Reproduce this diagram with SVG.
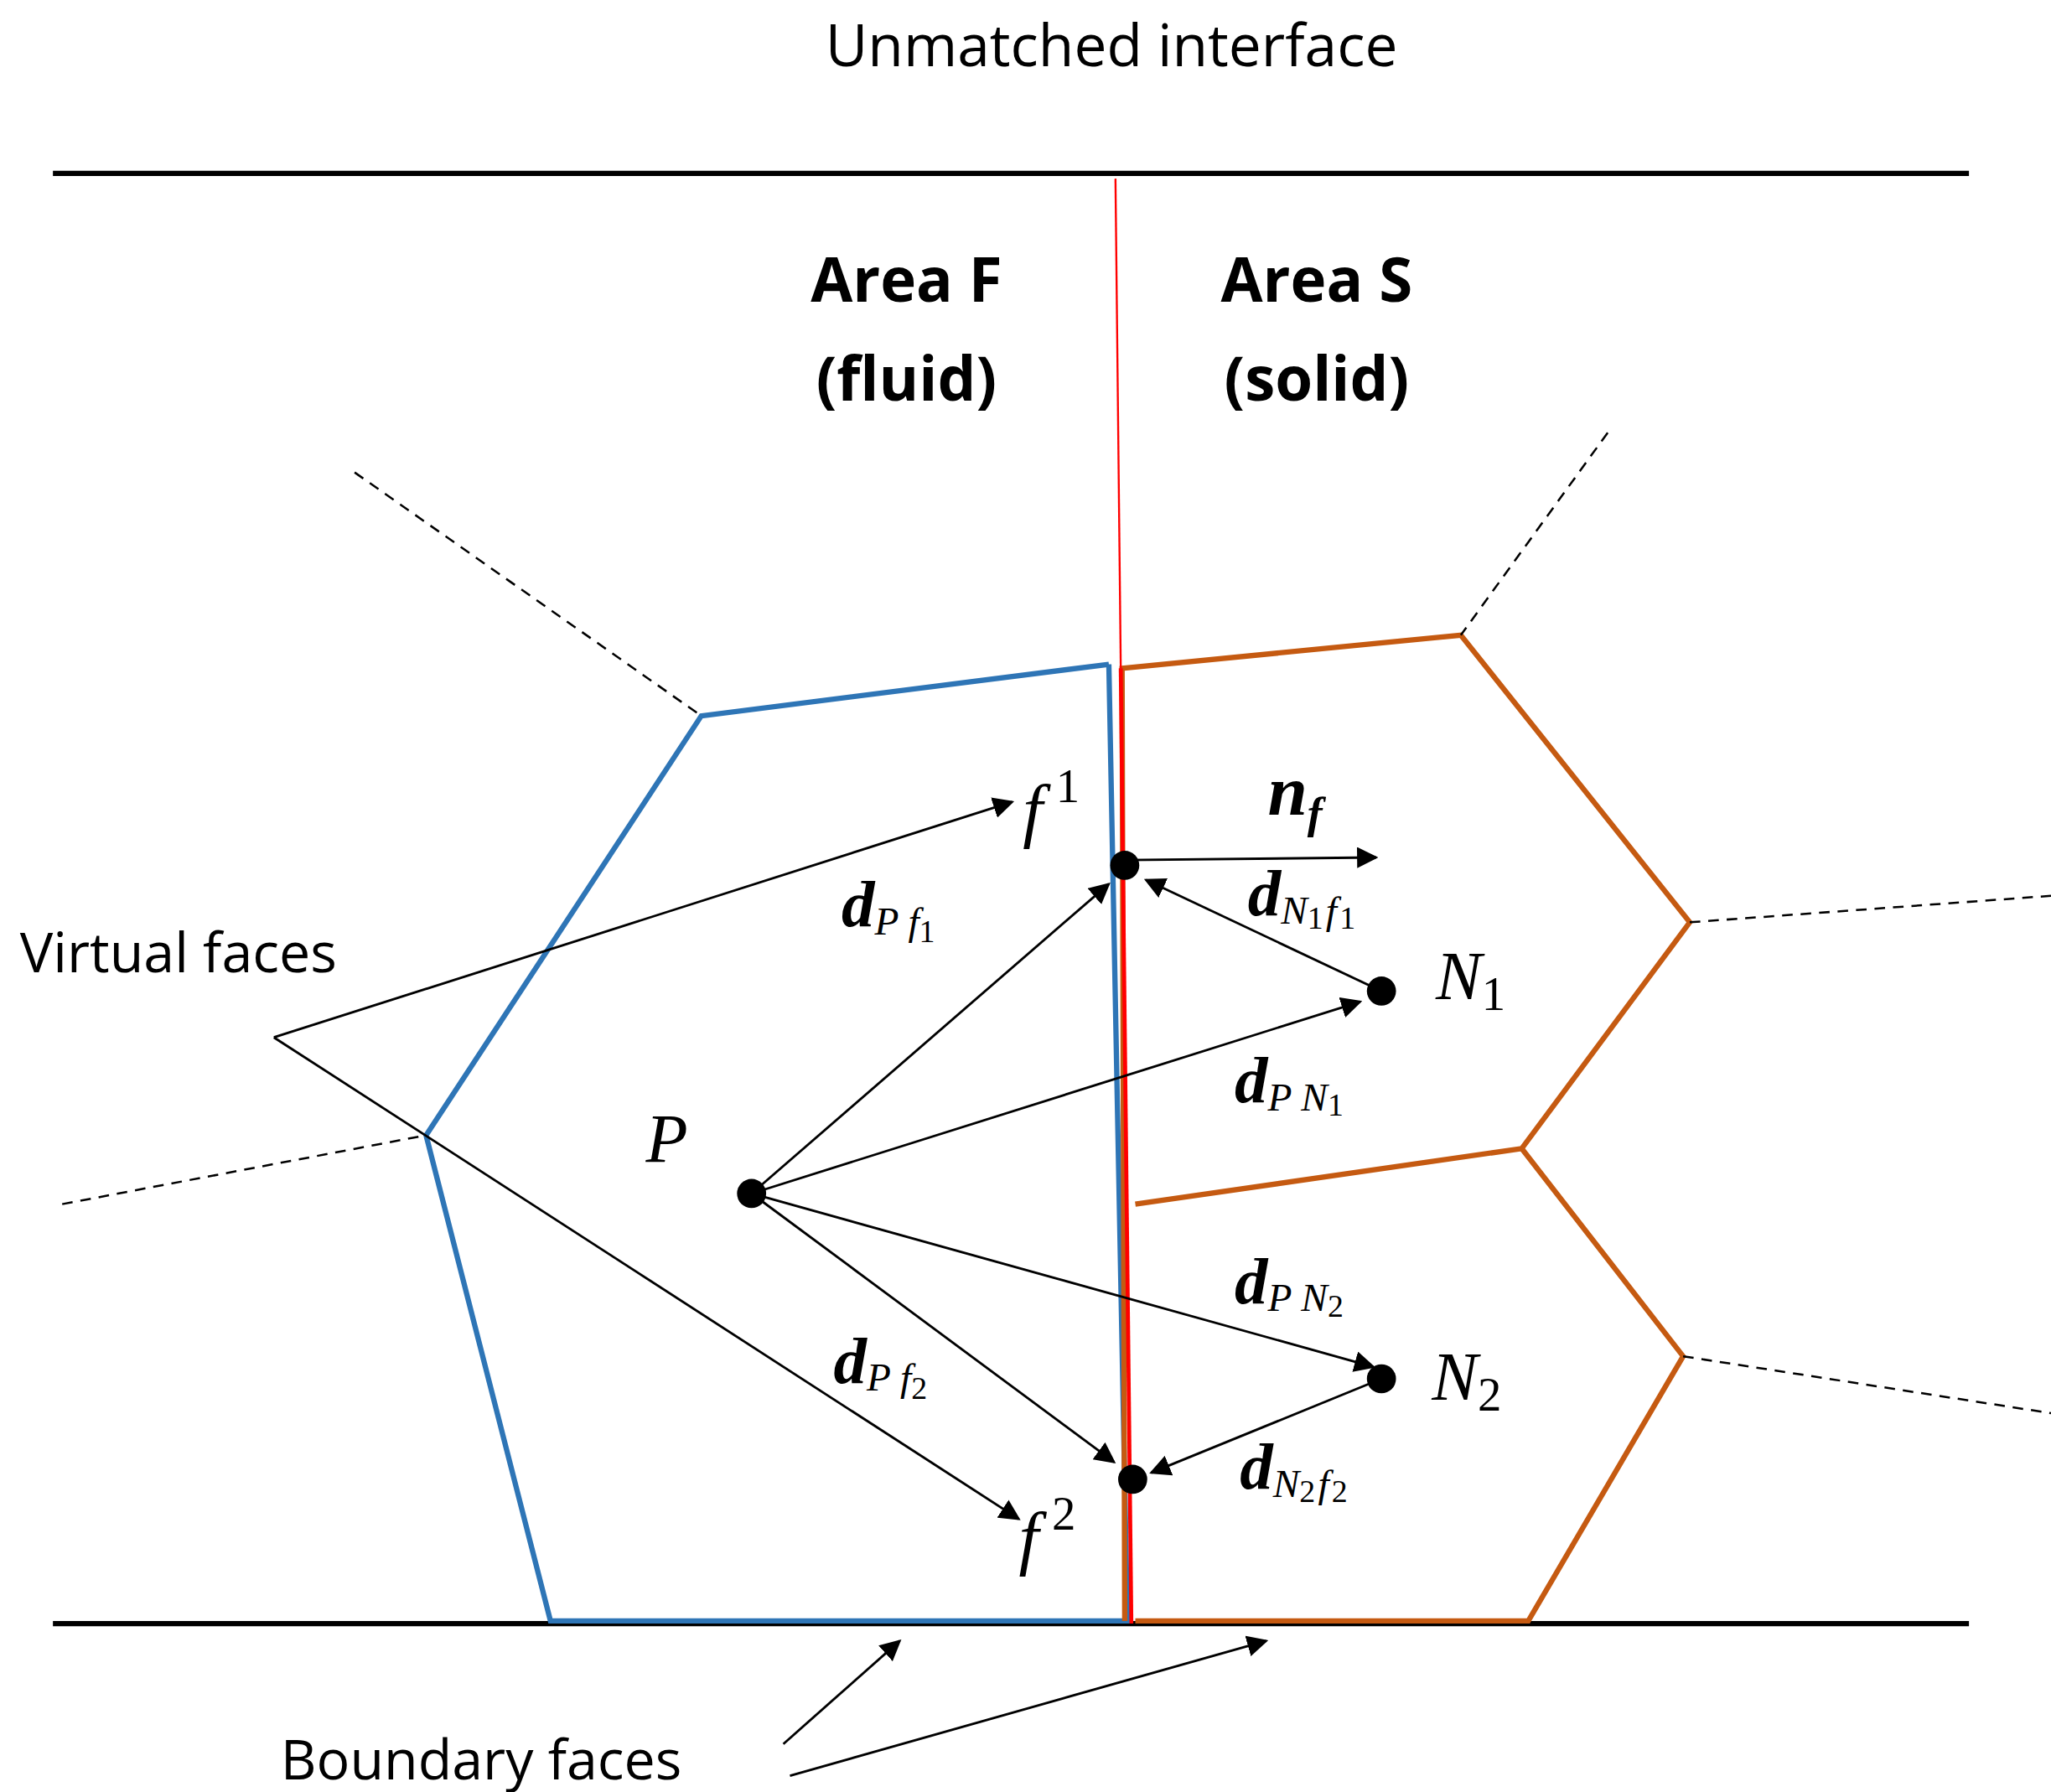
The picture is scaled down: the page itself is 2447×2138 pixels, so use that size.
<svg xmlns="http://www.w3.org/2000/svg" width="2447" height="2138" viewBox="0 0 2447 2138">
<style>
.t{font-family:"Open Sans","Liberation Sans",sans-serif;fill:#000}
.m{font-family:"Liberation Serif",serif;font-style:italic;fill:#000}
.b{font-weight:bold}
.s{font-size:30px;font-style:italic;font-weight:normal}
.n{font-size:24px;font-style:normal;font-weight:normal}
.bl{stroke:#2e75b6;stroke-width:4;fill:none}
.or{stroke:#c55a11;stroke-width:4;fill:none}
.ds{stroke:#000;stroke-width:1.6;stroke-dasharray:8 6;fill:none}
.ar{stroke:#000;stroke-width:1.8;fill:none;marker-end:url(#ah)}
</style>
<defs>
<marker id="ah" viewBox="0 0 10 10" refX="9" refY="5" markerWidth="16" markerHeight="16" markerUnits="userSpaceOnUse" orient="auto"><path d="M0,0 L10,5 L0,10 z" fill="#000"/></marker></defs>
<rect width="2447" height="2138" fill="#fff"/>
<g transform="scale(1.5787)">
<g id="frame">
<line x1="40" y1="131" x2="1488" y2="131" stroke="#000" stroke-width="4"/>
<line x1="40" y1="1227" x2="1488" y2="1227" stroke="#000" stroke-width="4"/>
</g>
<g id="cellF"><polyline class="bl" points="838,502 530,541 322,858 416,1225 852,1225 838,502"/></g>
<g id="cellS1"><polyline class="or" points="850,1225 848,505 1104,480 1277,697 1150,868 858,910"/></g>
<g id="cellS2"><polyline class="or" points="1150,868 1272,1025 1155,1225 858,1225"/></g>
<g id="interface"><line x1="843" y1="135" x2="847" y2="505" stroke="#ff0000" stroke-width="1.5"/><line x1="847" y1="505" x2="855" y2="1227" stroke="#ff0000" stroke-width="3"/></g>
<g id="dashes">
<line class="ds" x1="268" y1="357" x2="530" y2="541"/>
<line class="ds" x1="1215" y1="327" x2="1104" y2="480"/>
<line class="ds" x1="1277" y1="697" x2="1550" y2="677"/>
<line class="ds" x1="47" y1="910" x2="322" y2="858"/>
<line class="ds" x1="1272" y1="1025" x2="1550" y2="1068"/>
</g>
<g id="connectors">
<line class="ar" x1="207" y1="784" x2="765" y2="606"/>
<line class="ar" x1="207" y1="784" x2="770" y2="1148"/>
<line class="ar" x1="568" y1="902" x2="838" y2="668"/>
<line class="ar" x1="568" y1="902" x2="1028" y2="757"/>
<line class="ar" x1="568" y1="902" x2="1038" y2="1033"/>
<line class="ar" x1="568" y1="902" x2="842" y2="1105"/>
<line class="ar" x1="1044" y1="749" x2="866" y2="665"/>
<line class="ar" x1="1044" y1="1042" x2="870" y2="1113"/>
<line class="ar" x1="850" y1="650" x2="1040" y2="648"/>
<line class="ar" x1="592" y1="1318" x2="680" y2="1240"/>
<line class="ar" x1="597" y1="1342" x2="957" y2="1240"/>
</g>
<g id="points" fill="#000">
<circle cx="850" cy="654" r="11"/><circle cx="1044" cy="749" r="11"/><circle cx="568" cy="902" r="11"/><circle cx="1044" cy="1042" r="11"/><circle cx="856" cy="1118" r="11"/>
</g>
<g id="labels">
<text class="t" x="840" y="50" font-size="44" text-anchor="middle">Unmatched interface</text>
<text class="t b" x="685" y="228" font-size="46" text-anchor="middle">Area F</text>
<text class="t b" x="685" y="303" font-size="46" text-anchor="middle">(fluid)</text>
<text class="t b" x="995" y="228" font-size="46" text-anchor="middle">Area S</text>
<text class="t b" x="995" y="303" font-size="46" text-anchor="middle">(solid)</text>
<text class="t" x="15" y="735" font-size="42">Virtual faces</text>
<text class="t" x="212" y="1345" font-size="42">Boundary faces</text>
<text class="m" x="773" y="630" font-size="54">f<tspan font-style="normal" font-size="36" dx="10" dy="-24">1</tspan></text>
<text class="m" x="770" y="1180" font-size="54">f<tspan font-style="normal" font-size="36" dx="10" dy="-24">2</tspan></text>
<text class="m b" x="958" y="616" font-size="54">n<tspan font-size="34" dy="10">f</tspan></text>
<text class="m" x="488" y="878" font-size="52">P</text>
<text class="m" x="1085" y="755" font-size="52">N<tspan font-style="normal" font-size="36" dy="8">1</tspan></text>
<text class="m" x="1082" y="1058" font-size="52">N<tspan font-style="normal" font-size="36" dy="8">2</tspan></text>
<text class="m b" x="636" y="700" font-size="50">d<tspan class="s" dy="6">P f</tspan><tspan class="n" dy="6">1</tspan></text>
<text class="m b" x="630" y="1045" font-size="50">d<tspan class="s" dy="6">P f</tspan><tspan class="n" dy="6">2</tspan></text>
<text class="m b" x="943" y="692" font-size="50">d<tspan class="s" dy="6">N</tspan><tspan class="n" dy="4">1</tspan><tspan class="s" dx="2" dy="-4">f</tspan><tspan class="n" dx="2" dy="4">1</tspan></text>
<text class="m b" x="937" y="1125" font-size="50">d<tspan class="s" dy="6">N</tspan><tspan class="n" dy="4">2</tspan><tspan class="s" dx="2" dy="-4">f</tspan><tspan class="n" dx="2" dy="4">2</tspan></text>
<text class="m b" x="933" y="833" font-size="50">d<tspan class="s" dy="6">P N</tspan><tspan class="n" dy="4">1</tspan></text>
<text class="m b" x="933" y="985" font-size="50">d<tspan class="s" dy="6">P N</tspan><tspan class="n" dy="4">2</tspan></text>
</g>
</g>
</svg>
